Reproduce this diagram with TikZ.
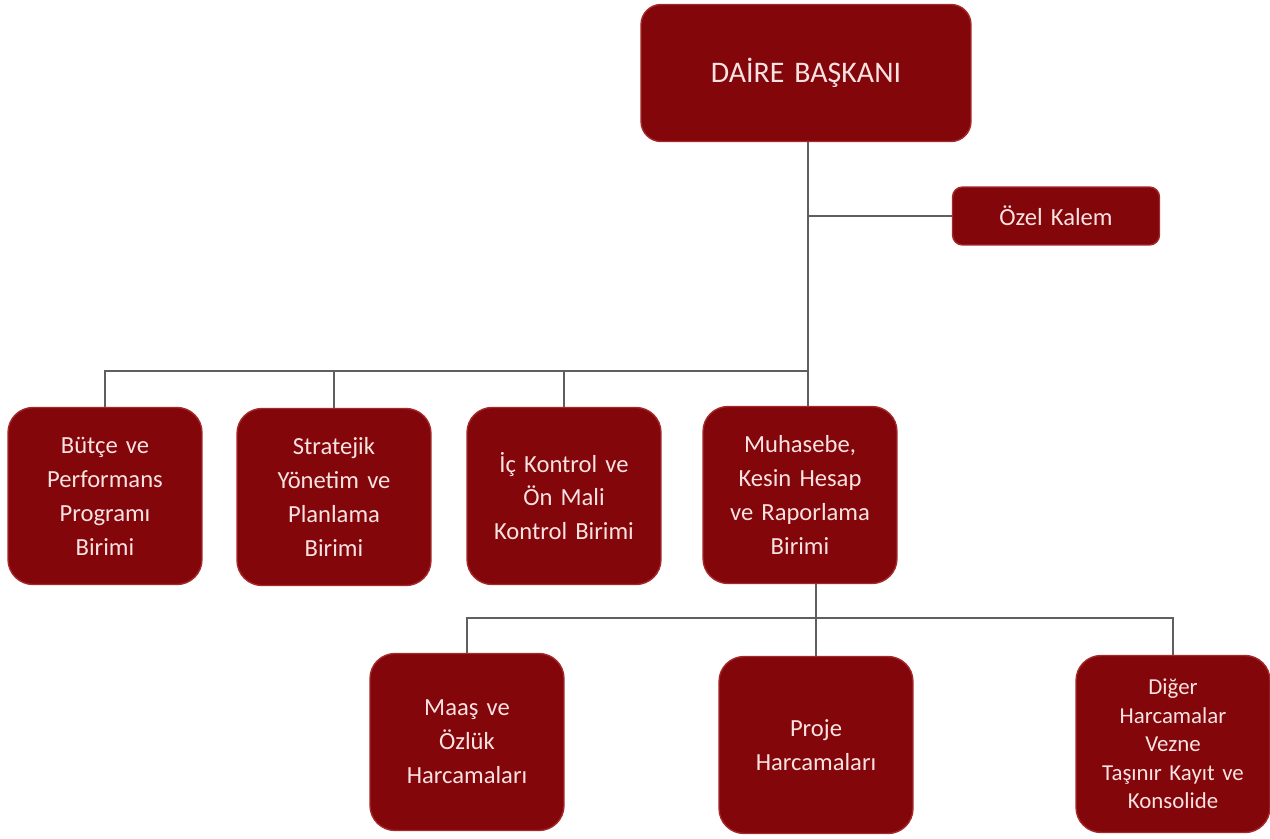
\documentclass[tikz,border=0pt]{standalone}
\usepackage{fontspec}
\setmainfont{Carlito}
\definecolor{boxred}{RGB}{130,6,10}
\definecolor{boxedge}{RGB}{165,40,42}
\definecolor{boxtext}{RGB}{250,226,226}
\definecolor{linegray}{RGB}{95,95,95}

\begin{document}
\begin{tikzpicture}[x=0.02cm, y=-0.02cm,
  unitbox/.style={draw=boxedge, fill=boxred, text=boxtext, rounded corners=0.5cm,
    line width=0.8pt, align=center, inner sep=0pt, text width=3.6cm,
    minimum width=3.88cm, minimum height=3.54cm, font=\fontsize{14}{19.3}\selectfont},
  link/.style={draw=linegray, line width=0.8pt}]
\useasboundingbox (0,0) rectangle (1270,838);

% head and private office
\node[unitbox, minimum width=6.6cm, minimum height=2.74cm, rounded corners=0.4cm,
  text width=6cm, font=\fontsize{17}{20}\selectfont] (chief) at (806,73) {DAİRE BAŞKANI};
\node[unitbox, minimum width=4.14cm, minimum height=1.16cm, rounded corners=0.2cm,
  text width=4cm] (ozel) at (1056,216) {Özel Kalem};

% units
\node[unitbox] (butce)  at (105,496) {Bütçe ve\\Performans\\Programı\\Birimi};
\node[unitbox] (strat)  at (334,497) {Stratejik\\Yönetim ve\\Planlama\\Birimi};
\node[unitbox] (kontrol) at (564,496) {İç Kontrol ve\\Ön Mali\\Kontrol Birimi};
\node[unitbox] (muhasebe) at (800,495) {Muhasebe,\\Kesin Hesap\\ve Raporlama\\Birimi};

% sub units
\node[unitbox] (maas)  at (467,742) {Maaş ve\\Özlük\\Harcamaları};
\node[unitbox] (proje) at (816,745) {Proje\\Harcamaları};
\node[unitbox, font=\fontsize{13}{16.2}\selectfont] (diger) at (1173,744)
  {Diğer\\Harcamalar\\Vezne\\Taşınır Kayıt ve\\Konsolide};

\coordinate (J1) at (808,371);
\coordinate (J2) at (816,618);

\draw[link] (chief.south -| J1) -- (J1);
\draw[link] (ozel.west) -- (ozel.west -| J1);
\draw[link] (J1) -| (butce.north);
\draw[link] (J1) -| (strat.north);
\draw[link] (J1) -| (kontrol.north);
\draw[link] (J1) -- (J1 |- muhasebe.north);

\draw[link] (muhasebe.south -| J2) -- (J2);
\draw[link] (J2) -| (maas.north);
\draw[link] (J2) -- (proje.north);
\draw[link] (J2) -| (diger.north);
\end{tikzpicture}
\end{document}
